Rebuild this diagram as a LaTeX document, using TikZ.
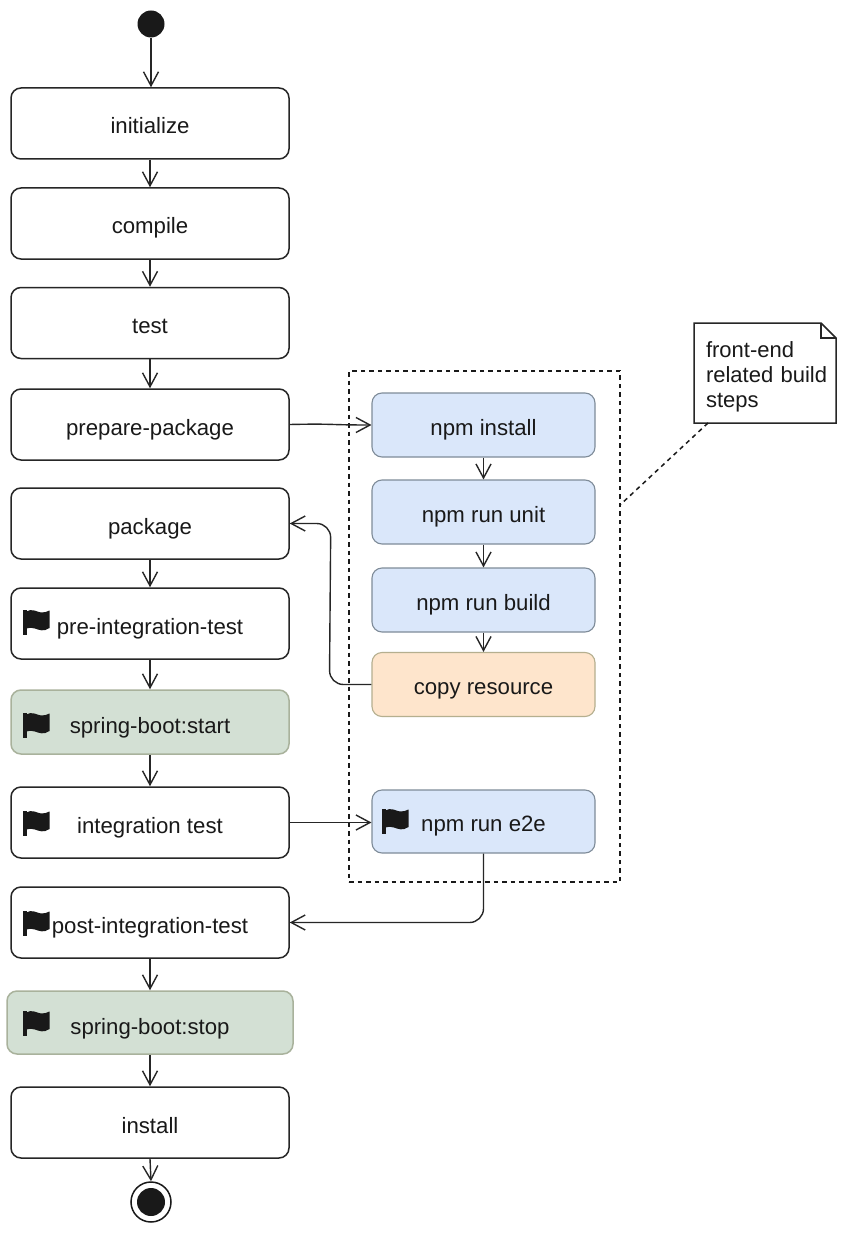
\documentclass[tikz,border=0pt]{standalone}
\usepackage{fontspec}
\setmainfont{Liberation Sans}
\usetikzlibrary{arrows.meta,calc}
\definecolor{sgreen}{HTML}{D3E0D4}
\definecolor{sblue}{HTML}{DAE7FA}
\definecolor{sorange}{HTML}{FEE5CC}
\definecolor{bluegray}{HTML}{7F8C99}
\definecolor{orangegray}{HTML}{B5AF8F}
\definecolor{greengray}{HTML}{A9B29C}
\tikzset{
  x=1pt,y=-1pt,
  phase/.style={draw=black!85,line width=1.5pt,rounded corners=10pt,fill=white,minimum width=278pt,minimum height=71pt,inner sep=0pt,font=\fontsize{22.2}{25}\selectfont,text=black!90,text height=24pt,text depth=3pt},
  greenbox/.style={phase,draw=greengray,fill=sgreen,minimum height=64pt,text height=26.5pt},
  npmbox/.style={phase,draw=bluegray,fill=sblue,line width=1.1pt,minimum width=223pt,minimum height=64pt,text height=23.5pt,text depth=3pt},
  orangebox/.style={npmbox,draw=orangegray,fill=sorange},
  flow/.style={draw=black!85,line width=1.4pt,-{Straight Barb[length=14pt,width=15pt,line width=1.4pt]},rounded corners=14pt},
  dashline/.style={draw=black!90,line width=1.5pt,dash pattern=on 4.5pt off 4pt},
  flag/.pic={
    \fill[black!90] (-13,-12) rectangle (-9.5,13);
    \fill[black!90] (-10,-10.5) .. controls (-4,-14) and (1,-10) .. (5,-9.5)
      .. controls (8,-9.5) and (11,-10) .. (13.5,-11.5) -- (13.5,6)
      .. controls (8,10) and (3,8) .. (-1,6.5) .. controls (-4,5.5) and (-7,5.5) .. (-10,6.5) -- cycle;
  }
}
\begin{document}
\begin{tikzpicture}
\useasboundingbox (0,0) rectangle (849,1233);
\fill[white] (0,0) rectangle (849,1233);

% group and note
\node[dashline,draw,minimum width=271pt,minimum height=511pt,inner sep=0pt] (group) at (484.5,626.5) {};
\node[minimum width=142pt,minimum height=100pt,inner xsep=6pt,inner ysep=0pt,align=left,text width=130pt,font=\fontsize{22}{25}\selectfont,text=black!90] (note) at (765,376.5) {\hspace*{6pt}front-end\\\hspace*{6pt}related build\\\hspace*{6pt}steps};
\coordinate (nnw) at (694,323);
\coordinate (nne) at (836,323);
\coordinate (nsw) at (694,423);
\coordinate (nse) at (836,423);
\draw[line width=1.5pt,draw=black!85,line join=miter]
  (nnw) -- ($(nne)+(-15,0)$) -- ($(nne)+(0,15)$) -- (nse) -- (nsw) -- cycle;
\draw[line width=1.3pt,draw=black!85] ($(nne)+(-15,0)$) -- ($(nne)+(-15,15)$) -- ($(nne)+(0,15)$);
\coordinate (groupcorner) at (620,505);
\draw[dashline] ($(nsw)+(14,0)$) -- (groupcorner);

% terminals
\node[circle,fill=black!90,minimum size=27pt,inner sep=0pt] (start) at (151,24) {};
\node[circle,fill=black!90,minimum size=28pt,inner sep=0pt] (endin) at (151,1202) {};
\node[circle,draw=black!90,line width=1.5pt,minimum size=40pt,inner sep=0pt] (endout) at (151,1202) {};

% main column
\node[phase] (init) at (150,123.5) {initialize};
\node[phase] (compile) at (150,223.5) {compile};
\node[phase] (test) at (150,323) {test};
\node[phase] (prep) at (150,424.5) {prepare-package};
\node[phase] (pack) at (150,523.5) {package};
\node[phase] (pre) at (150,623.5) {pre-integration-test};
\node[greenbox] (sstart) at (150,722) {spring-boot:start};
\node[phase] (integ) at (150,822.5) {integration test};
\node[phase] (post) at (150,922.5) {post-integration-test};
\node[greenbox,minimum width=286pt,minimum height=63pt] (sstop) at (150,1022.5) {spring-boot:stop};
\node[phase] (inst) at (150,1122.5) {install};

% npm column
\node[npmbox] (ni) at (483.5,425) {npm install};
\node[npmbox] (nu) at (483.5,512) {npm run unit};
\node[npmbox] (nb) at (483.5,600) {npm run build};
\node[orangebox] (cr) at (483.5,684.5) {copy resource};
\node[npmbox,minimum height=63pt] (ne) at (483.5,821.5) {npm run e2e};

% flags
\pic at (36,622) {flag};
\pic at (36,725) {flag};
\pic at (36,823) {flag};
\pic at (36,923) {flag};
\pic at (36,1023) {flag};
\pic at (395,821) {flag};

% connectors
\draw[flow] (start.south) -- (start.south |- init.north);
\draw[flow] (init) -- (compile.north);
\draw[flow] (compile) -- (test.north);
\draw[flow] (test) -- (prep.north);
\draw[flow] (pack.south) -- (pre.north);
\draw[flow] (pre.south) -- (sstart.north);
\draw[flow] (sstart.south) -- (integ.north);
\draw[flow] (post.south) -- (sstop.north);
\draw[flow] (sstop.south) -- (inst.north);
\draw[flow] (inst.south) -- (endout.north);
\draw[flow] (ni.south) -- (nu.north);
\draw[flow] (nu.south) -- (nb.north);
\draw[flow] (nb.south) -- (cr.north);
\draw[flow,rounded corners=0pt] (prep.east) .. controls ($(prep.east)+(45,-1)$) and ($(ni.west)+(-45,0)$) .. (ni.west);
\draw[flow] (cr.west) -- ($(cr.west)+(-42,0)$) -- ($(pack.east)+(41,0)$) -- (pack.east);
\draw[flow] (integ.east) -- (ne.west |- integ.east);
\draw[flow] (ne.south) -- (ne.south |- post.east) -- (post.east);
\end{tikzpicture}
\end{document}
